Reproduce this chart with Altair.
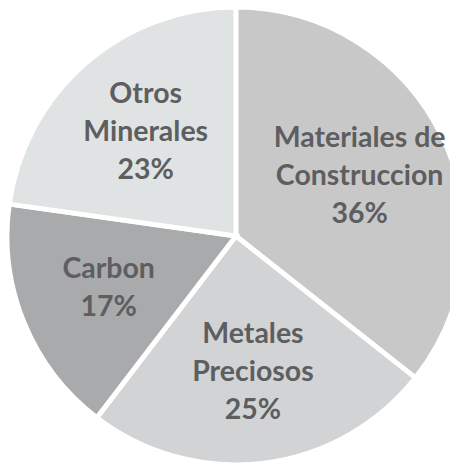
import altair as alt
import pandas as pd

categories = ["Materiales de Construccion", "Metales Preciosos", "Carbon", "Otros Minerales"]
label_lines = [["Materiales de", "Construccion", "36%"],
               ["Metales", "Preciosos", "25%"],
               ["Carbon", "17%"],
               ["Otros", "Minerales", "23%"]]
values = [36, 25, 17, 23]
colors = ["#c8c8c8", "#d2d3d5", "#a9aaac", "#e0e3e3"]

LINE_H = 38.5

df = pd.DataFrame({
    "cat": categories,
    "value": values,
    "order": list(range(len(categories))),
    "label": label_lines,
})

base = alt.Chart(df).transform_joinaggregate(
    total="sum(value)"
).transform_window(
    cum="sum(value)", sort=[alt.SortField("order")], frame=[None, 0]
).transform_calculate(
    start="(datum.cum - datum.value) / datum.total * 2 * PI",
    end="datum.cum / datum.total * 2 * PI",
).transform_calculate(
    mid="(datum.start + datum.end) / 2",
    yo=f"-(length(datum.label) - 1) * {LINE_H / 2}",
).encode(
    x=alt.value(232),
    y=alt.value(228),
)

pie = base.mark_arc(outerRadius=233, stroke="white", strokeWidth=5).encode(
    theta=alt.Theta("start:Q", scale=None),
    theta2="end:Q",
    color=alt.Color("cat:N", scale=alt.Scale(domain=categories, range=colors), legend=None),
)

text = base.mark_text(
    radius=140, font="Lato", fontWeight="bold", fontSize=29,
    color="#5d5e60", lineHeight=LINE_H, baseline="middle", align="center"
).encode(
    theta=alt.Theta("mid:Q", scale=None),
    text="label",
    yOffset=alt.YOffset("yo:Q", scale=None),
)

chart = (pie + text).properties(
    width=450, height=456,
    autosize=alt.AutoSizeParams(type="none"),
    padding=0,
).configure_view(stroke=None)

chart.save("out.html", embed_options={"renderer": "svg", "actions": False})
